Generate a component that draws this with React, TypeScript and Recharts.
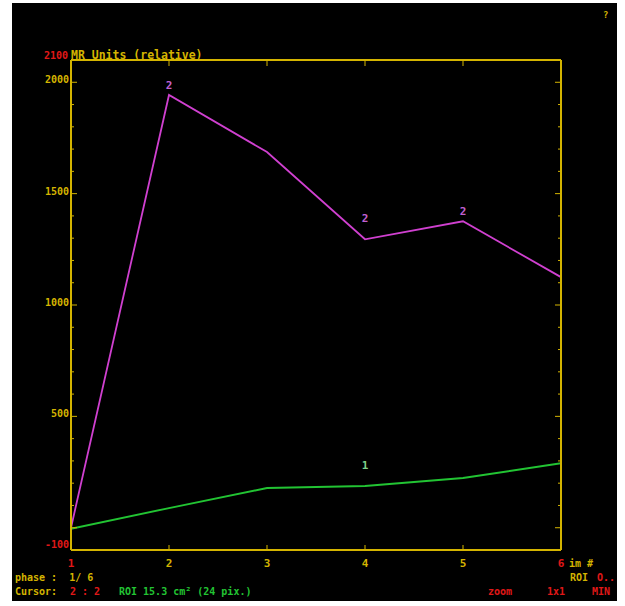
import React from 'react';
import { LineChart, Line, XAxis, YAxis } from 'recharts';

const imageNumbers = [1, 2, 3, 4, 5, 6];
const roi2Values = [0, 1943, 1687, 1295, 1376, 1125];
const roi1Values = [-5, 88, 178, 187, 223, 290];
const roi2Marks = ['', '2', '', '2', '2', ''];
const roi1Marks = ['', '', '', '1', '', ''];
const yTicks = [-100, 0, 100, 200, 300, 400, 500, 600, 700, 800, 900, 1000, 1100, 1200, 1300, 1400, 1500, 1600, 1700, 1800, 1900, 2000];
const yLabelled = [-100, 500, 1000, 1500, 2000];
const xTicks = [1, 2, 3, 4, 5, 6];

const data = imageNumbers.map((x, i) => ({ x, roi2: roi2Values[i], roi1: roi1Values[i] }));

const YEL = '#d4b400';
const RED = '#e01818';
const GRN = '#22c433';
const MAG = '#d040d0';
const FONT = '"DejaVu Sans Mono", monospace';

const LeftTick = (props: any) => {
  const { x, y, payload } = props;
  const v = payload.value;
  const major = v % 500 === 0;
  const labelled = yLabelled.includes(v);
  return (
    <g>
      {v > -100 && <line x1={x} x2={x + (major ? 6 : 3)} y1={y} y2={y} stroke={YEL} strokeWidth={1} />}
      {labelled && (
        <text x={x - 2} y={v === -100 ? y - 2 : y + 1} textAnchor="end" fontFamily={FONT} fontSize={10} fontWeight="bold" fill={v === -100 ? RED : YEL}>
          {v}
        </text>
      )}
    </g>
  );
};

const RightTick = (props: any) => {
  const { x, y, payload } = props;
  const v = payload.value;
  const major = v % 500 === 0;
  if (v === -100) return <g />;
  return <line x1={x} x2={x - (major ? 6 : 3)} y1={y} y2={y} stroke={YEL} strokeWidth={1} />;
};

const BottomTick = (props: any) => {
  const { x, y, payload } = props;
  const v = payload.value;
  const edge = v === 1 || v === 6;
  return (
    <g>
      {!edge && <line x1={x} x2={x} y1={y} y2={y - 5} stroke={YEL} strokeWidth={1} />}
      <text x={x} y={y + 17} textAnchor="middle" fontFamily={FONT} fontSize={11} fontWeight="bold" fill={edge ? RED : YEL}>
        {v}
      </text>
    </g>
  );
};

const TopTick = (props: any) => {
  const { x, y, payload } = props;
  const v = payload.value;
  if (v === 1 || v === 6) return <g />;
  return <line x1={x} x2={x} y1={y} y2={y + 6} stroke={YEL} strokeWidth={1} />;
};

const markOffsets: Record<string, number> = { 'roi2-1': 10, 'roi2-3': 21, 'roi2-4': 10, 'roi1-3': 21 };

const makeMarkLabel = (marks: string[], key: string, color: string) => (props: any) => {
  const { x, y, index } = props;
  const m = marks[index];
  if (!m) return <g key={`${key}-${index}`} />;
  const off = markOffsets[`${key}-${index}`] ?? 12;
  return (
    <text key={`${key}-${index}`} x={x} y={y - off + 4} textAnchor="middle" fontFamily={FONT} fontSize={11} fontWeight="bold" fill={color}>
      {m}
    </text>
  );
};

const T = (p: any) => <text fontFamily={FONT} fontSize={10} fontWeight="bold" xmlSpace="preserve" {...p} />;

export default function App() {
  return (
    <div style={{ position: 'absolute', left: 0, top: 0, width: 625, height: 606, background: '#fff', overflow: 'hidden' }}>
      <div style={{ position: 'absolute', left: 12, top: 3, width: 605, height: 598, background: '#000' }} />
      <div style={{ position: 'absolute', left: 0, top: 0 }}>
        <LineChart width={625} height={606} data={data} margin={{ top: 0, right: 0, bottom: 0, left: 0 }}>
          <XAxis xAxisId="bottom" dataKey="x" type="number" domain={[1, 6]} ticks={xTicks} interval={0}
            axisLine={{ stroke: YEL, strokeWidth: 2 }} tickLine={false} tickSize={0} tickMargin={0} height={56} tick={<BottomTick />} allowDataOverflow />
          <XAxis xAxisId="top" orientation="top" dataKey="x" type="number" domain={[1, 6]} ticks={xTicks} interval={0}
            axisLine={{ stroke: YEL, strokeWidth: 2 }} tickLine={false} tickSize={0} tickMargin={0} height={60} tick={<TopTick />} allowDataOverflow />
          <YAxis yAxisId="left" type="number" domain={[-100, 2100]} ticks={yTicks} interval={0}
            axisLine={{ stroke: YEL, strokeWidth: 2 }} tickLine={false} tickSize={0} tickMargin={0} width={71} tick={<LeftTick />} allowDataOverflow />
          <YAxis yAxisId="right" orientation="right" type="number" domain={[-100, 2100]} ticks={yTicks} interval={0}
            axisLine={{ stroke: YEL, strokeWidth: 2 }} tickLine={false} tickSize={0} tickMargin={0} width={64} tick={<RightTick />} allowDataOverflow />
          <Line xAxisId="bottom" yAxisId="left" type="linear" dataKey="roi1" stroke={GRN} strokeWidth={2} dot={false}
            isAnimationActive={false} label={makeMarkLabel(roi1Marks, 'roi1', '#7fd08a')} />
          <Line xAxisId="bottom" yAxisId="left" type="linear" dataKey="roi2" stroke={MAG} strokeWidth={1.8} dot={false}
            isAnimationActive={false} label={makeMarkLabel(roi2Marks, 'roi2', '#c060d0')} />
        </LineChart>
      </div>
      <svg width={625} height={606} style={{ position: 'absolute', left: 0, top: 0 }}>
        <T x={44} y={59} fill={RED}>2100</T>
        <T x={71} y={59} fontSize={11.5} fill={YEL}>MR Units (relative)</T>
        <T x={569} y={567} fill={YEL}>im #</T>
        <T x={603} y={18} fontSize={9} fill={YEL}>?</T>
        <T x={15} y={581} fill={YEL}>phase :  1/ 6</T>
        <T x={15} y={595} fill={YEL}>Cursor:</T>
        <T x={70} y={595} fill={RED}>2 : 2</T>
        <T x={119} y={595} fill={GRN}>ROI 15.3 cm² (24 pix.)</T>
        <T x={570} y={581} fill={YEL}>ROI</T>
        <T x={597} y={581} fill={RED}>O..</T>
        <T x={488} y={595} fill={RED}>zoom</T>
        <T x={547} y={595} fill={RED}>1x1</T>
        <T x={592} y={595} fill={RED}>MIN</T>
      </svg>
    </div>
  );
}
